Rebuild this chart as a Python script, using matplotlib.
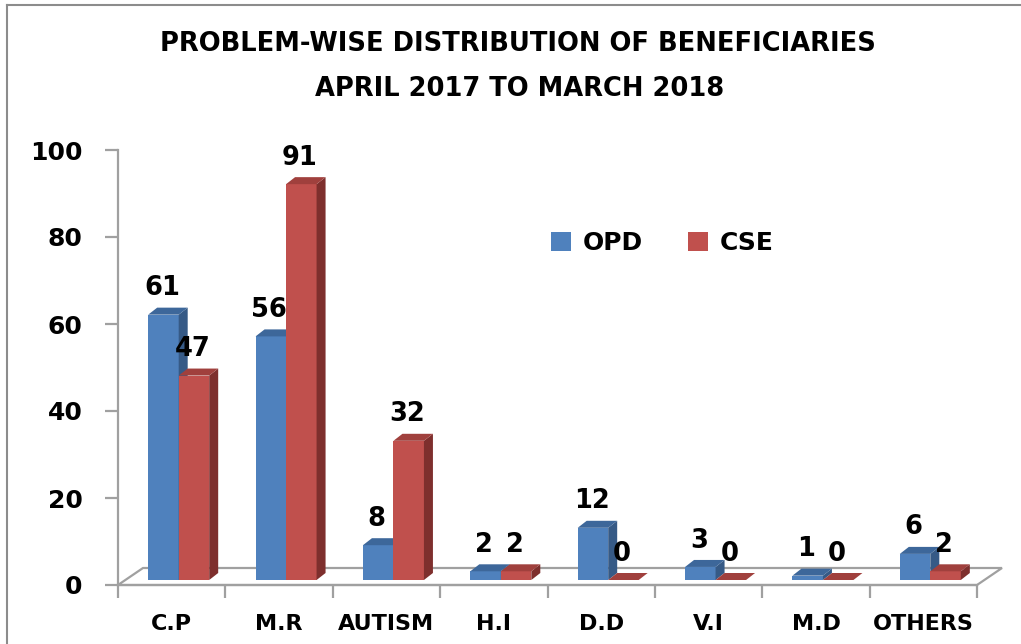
import matplotlib
matplotlib.use("Agg")
import matplotlib.pyplot as plt
from matplotlib.patches import Polygon, Patch
from matplotlib.lines import Line2D
import numpy as np

## ------------------------------- ##
## data
categories = ["C.P", "M.R", "AUTISM", "H.I", "D.D", "V.I", "M.D", "OTHERS"]
opd = [61, 56, 8, 2, 12, 3, 1, 6]
cse = [47, 91, 32, 2, 0, 0, 0, 2]
series_names = ["OPD", "CSE"]
y_ticks = [0, 20, 40, 60, 80, 100]
title_1 = "PROBLEM-WISE DISTRIBUTION OF BENEFICIARIES"
title_2 = "APRIL 2017 TO MARCH 2018"
## ------------------------------- ##

plt.rcParams['font.family'] = ['DejaVu Sans']

# colours: front, top, side
blue = ("#4F81BD", "#3D679A", "#365A86")
red = ("#C0504D", "#A0403D", "#7E2F2D")
grey = "#A0A0A0"

W, H = 1021, 644
fig = plt.figure(figsize=(W / 100, H / 100), dpi=100)
ax = fig.add_axes([118 / W, 1 - 585 / H, (977 - 118) / W, (585 - 150) / H])

n = len(categories)
ax.set_xlim(0, n)
ax.set_ylim(0, 100)

# fake 3d geometry, in data units
px_x = (977 - 118) / n          # pixels per category
px_y = (585 - 150) / 100.0      # pixels per value unit
floor_dx, floor_dy = 25 / px_x, 17 / px_y
bar_dx, bar_dy = 7 / px_x, 5 / px_y      # front of bars sits a bit into the floor
depth_dx, depth_dy = 9 / px_x, 7 / px_y
w = 30.5 / px_x

# floor
floor = Polygon([(0, 0), (n, 0), (n + floor_dx, floor_dy), (floor_dx, floor_dy)],
                closed=True, fill=False, edgecolor=grey, lw=1.6, clip_on=False, zorder=1)
ax.add_patch(floor)

x = np.arange(n) + 0.5 + bar_dx
offsets = [-w / 2, w / 2]
for s, (vals, cols) in enumerate([(opd, blue), (cse, red)]):
    bars = ax.bar(x + offsets[s], vals, width=w, bottom=bar_dy, color=cols[0],
                  edgecolor="none", clip_on=False)
    for k, (b, v) in enumerate(zip(bars, vals)):
        z = 2 + 2 * k + s
        b.set_zorder(z)
        xl = b.get_x()
        xr = xl + w
        top = bar_dy + v
        side = Polygon([(xr, bar_dy), (xr + depth_dx, bar_dy + depth_dy),
                        (xr + depth_dx, top + depth_dy), (xr, top)],
                       closed=True, facecolor=cols[2], edgecolor="none", zorder=z, clip_on=False)
        cap = Polygon([(xl, top), (xr, top), (xr + depth_dx, top + depth_dy),
                       (xl + depth_dx, top + depth_dy)],
                      closed=True, facecolor=cols[1], edgecolor="none", zorder=z, clip_on=False)
        ax.add_patch(side)
        ax.add_patch(cap)
        ax.annotate(str(v), (xl + w / 2, top), xytext=(-1, 14), textcoords="offset points",
                    ha="center", va="baseline", fontsize=18.5, fontweight="bold",
                    zorder=30, annotation_clip=False)

# axes styling
for sp in ["top", "right"]:
    ax.spines[sp].set_visible(False)
ax.spines["left"].set_color(grey)
ax.spines["left"].set_linewidth(1.6)
ax.spines["bottom"].set_color(grey)
ax.spines["bottom"].set_linewidth(1.6)

ax.set_yticks(y_ticks)
ax.set_yticklabels([str(t) for t in y_ticks], fontsize=18, fontweight="bold")
ax.tick_params(axis="y", length=9.5, width=1.6, color=grey, pad=16)

ax.set_xticks(np.arange(n + 1))
ax.set_xticklabels([])
ax.tick_params(axis="x", which="major", length=9, width=1.6, color=grey)
ax.set_xticks(np.arange(n) + 0.5, minor=True)
ax.set_xticklabels(categories, minor=True, fontsize=16, fontweight="bold")
ax.tick_params(axis="x", which="minor", length=0, pad=21)
ax.set_facecolor("none")

# legend
handles = [Patch(facecolor=blue[0]), Patch(facecolor=red[0])]
fig.legend(handles, series_names, loc="center left", bbox_to_anchor=(551 / W, 1 - 243 / H),
           ncol=2, frameon=False, prop={"weight": "bold", "size": 18},
           handlelength=0.8, handleheight=0.8, handletextpad=0.48, columnspacing=1.8,
           borderpad=0, borderaxespad=0)

# title
fig.text(518 / W, 1 - 51 / H, title_1, ha="center", va="baseline", fontsize=18.5, fontweight="bold")
fig.text(520 / W, 1 - 96 / H, title_2, ha="center", va="baseline", fontsize=18.5, fontweight="bold")

# chart border (top and left edges are visible)
fig.add_artist(Line2D([7 / W, 7 / W], [0, 1 - 5 / H], color="#8C8C8C", lw=1.5))
fig.add_artist(Line2D([7 / W, 1], [1 - 5 / H, 1 - 5 / H], color="#8C8C8C", lw=1.5))

fig.savefig("out.png", dpi=100)
